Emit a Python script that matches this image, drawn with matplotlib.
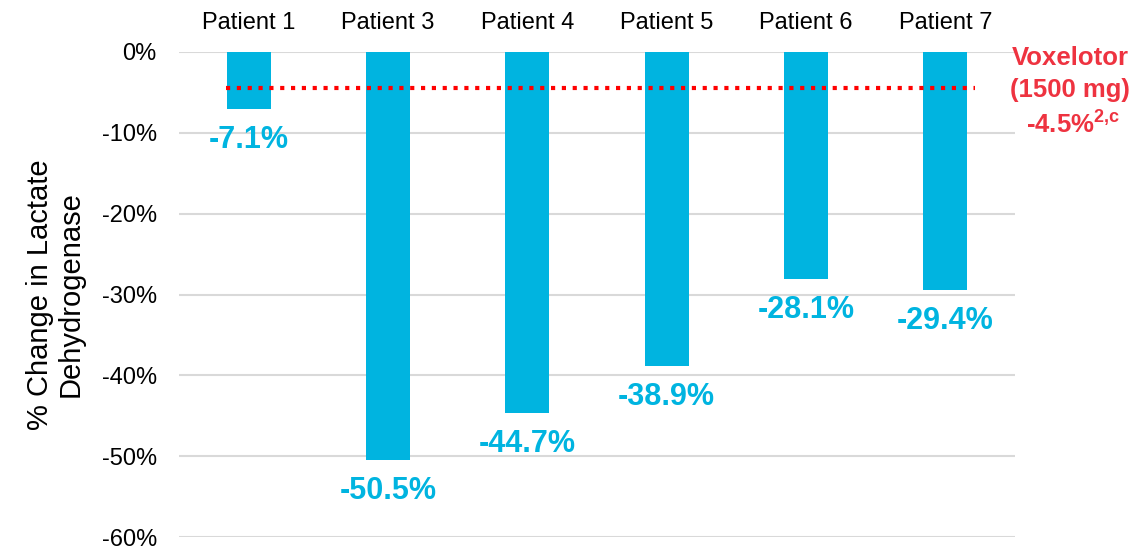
import matplotlib
matplotlib.use("Agg")
import matplotlib.pyplot as plt
import numpy as np

# dados por paciente
pacientes = ["Patient 1", "Patient 3", "Patient 4", "Patient 5", "Patient 6", "Patient 7"]
variacao_ldh = [-7.1, -50.5, -44.7, -38.9, -28.1, -29.4]

# referência voxelotor
ref_valor = -4.5
ref_texto = ["Voxelotor", "(1500 mg)"]

y_ticks = [0, -10, -20, -30, -40, -50, -60]

cor_barra = "#00B4E0"
cor_ref = "#FF0000"
cor_texto_ref = "#EE3340"

plt.rcParams["font.family"] = ["Liberation Sans", "DejaVu Sans"]
plt.rcParams["mathtext.fontset"] = "custom"
plt.rcParams["mathtext.rm"] = "Liberation Sans"
plt.rcParams["mathtext.bf"] = "Liberation Sans:bold"

fig = plt.figure(figsize=(11.38, 5.49), dpi=100)
ax = fig.add_axes([179 / 1138, 1 - 537 / 549, (1015 - 179) / 1138, (537 - 52) / 549])

x = np.arange(len(pacientes))

ax.bar(x, variacao_ldh, width=0.316, color=cor_barra, zorder=2)

# rótulos de valor abaixo de cada barra
for xi, v in zip(x, variacao_ldh):
    ax.annotate(
        f"{v:.1f}%",
        xy=(xi, v),
        xytext=(0, -31),
        textcoords="offset pixels",
        ha="center",
        va="center",
        fontsize=22,
        fontweight="bold",
        color=cor_barra,
    )

# linha de referência pontilhada
ax.plot(
    [-0.165, 5.21],
    [ref_valor, ref_valor],
    color=cor_ref,
    linewidth=3,
    linestyle=(0, (1, 1.6)),
    zorder=3,
)

ax.set_xlim(-0.5, len(pacientes) - 0.5)
ax.set_ylim(-60, 0)

ax.set_yticks(y_ticks)
ax.set_yticklabels([f"{t}%" for t in y_ticks])
ax.yaxis.grid(True, color="#D9D9D9", linewidth=1.5, zorder=0)
ax.set_axisbelow(True)

ax.xaxis.tick_top()
ax.set_xticks(x)
ax.set_xticklabels(pacientes)

ax.tick_params(axis="x", length=0, pad=13, labelsize=17)
ax.tick_params(axis="y", length=0, pad=16, labelsize=17)

for s in ax.spines.values():
    s.set_visible(False)

ax.set_ylabel("% Change in Lactate\nDehydrogenase", fontsize=21, labelpad=12, linespacing=1.15)

# texto da referência
xt = 1070 / 1138
fig.text(xt, 1 - 58 / 549, ref_texto[0], ha="center", va="center",
         fontsize=18.5, fontweight="bold", color=cor_texto_ref)
fig.text(xt, 1 - 90 / 549, ref_texto[1], ha="center", va="center",
         fontsize=18.5, fontweight="bold", color=cor_texto_ref)
fig.text(xt + 3 / 1138, 1 - 124 / 549, f"{ref_valor}%" + r"$^{\mathbf{2{,}c}}$",
         ha="center", va="center", fontsize=18.5, fontweight="bold", color=cor_texto_ref)

fig.savefig("out.png", dpi=100)
